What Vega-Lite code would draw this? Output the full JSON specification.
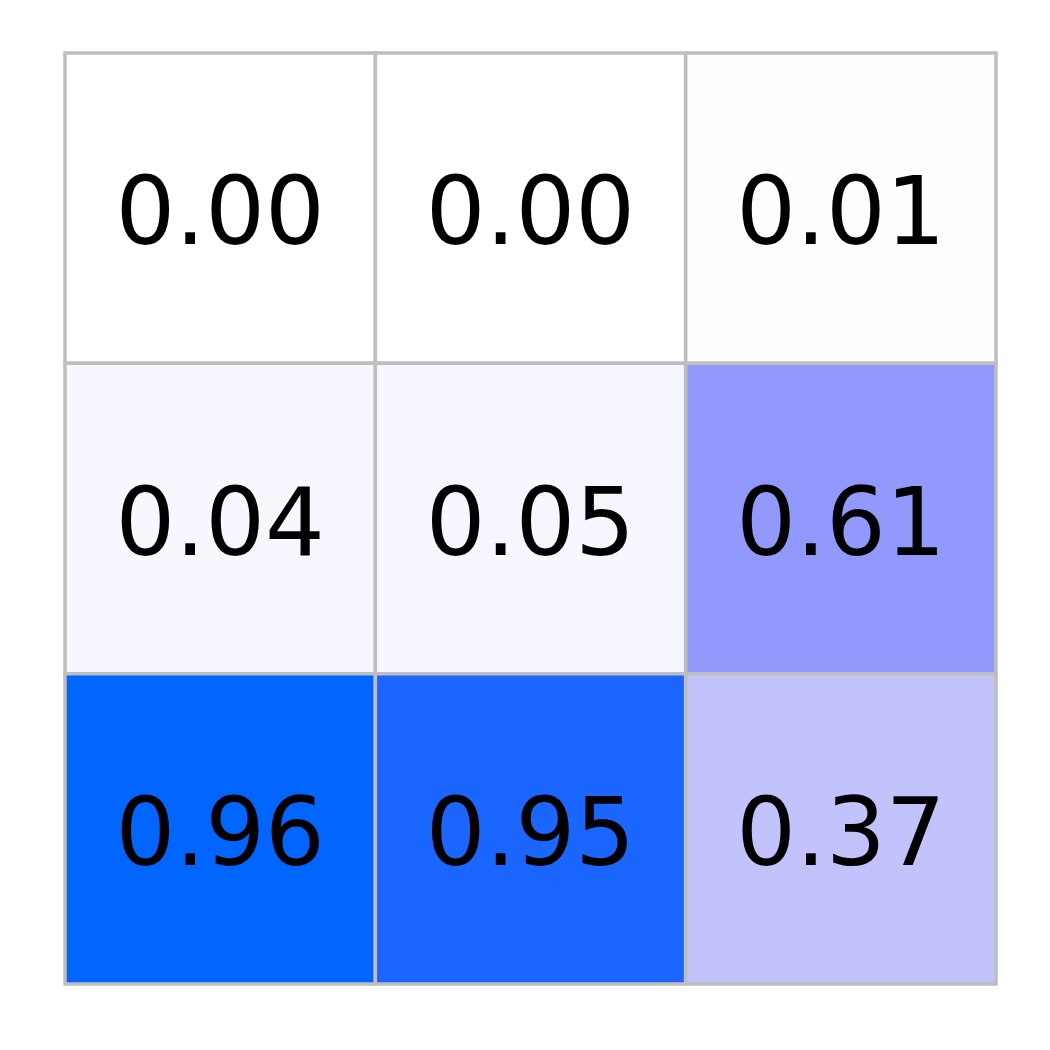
{
  "$schema": "https://vega.github.io/schema/vega-lite/v6.json",
  "width": 931,
  "height": 931,
  "autosize": {"type": "none"},
  "padding": {"left": 65, "top": 53, "right": 54, "bottom": 66},
  "background": "white",
  "config": {"view": {"stroke": null}},
  "data": {
    "values": [
      {"row": 0, "col": 0, "v": 0.00},
      {"row": 0, "col": 1, "v": 0.00},
      {"row": 0, "col": 2, "v": 0.01},
      {"row": 1, "col": 0, "v": 0.04},
      {"row": 1, "col": 1, "v": 0.05},
      {"row": 1, "col": 2, "v": 0.61},
      {"row": 2, "col": 0, "v": 0.96},
      {"row": 2, "col": 1, "v": 0.95},
      {"row": 2, "col": 2, "v": 0.37}
    ]
  },
  "encoding": {
    "x": {"field": "col", "type": "ordinal", "axis": null, "scale": {"paddingInner": 0, "paddingOuter": 0}},
    "y": {"field": "row", "type": "ordinal", "axis": null, "scale": {"paddingInner": 0, "paddingOuter": 0}}
  },
  "layer": [
    {
      "mark": {"type": "rect", "stroke": "#bebebe", "strokeWidth": 3.5},
      "encoding": {
        "color": {
          "field": "v",
          "type": "quantitative",
          "legend": null,
          "scale": {
            "domain": [0, 0.01, 0.05, 0.37, 0.61, 0.95, 0.96],
            "range": ["#ffffff", "#fdfdff", "#f5f6ff", "#c2c2fd", "#9199fd", "#1a66ff", "#0066ff"],
            "interpolate": "rgb"
          }
        }
      }
    },
    {
      "mark": {"type": "text", "font": "DejaVu Sans", "fontSize": 94, "color": "black", "baseline": "middle", "align": "center", "dy": 8},
      "encoding": {
        "text": {"field": "v", "type": "quantitative", "format": ".2f"}
      }
    }
  ]
}
